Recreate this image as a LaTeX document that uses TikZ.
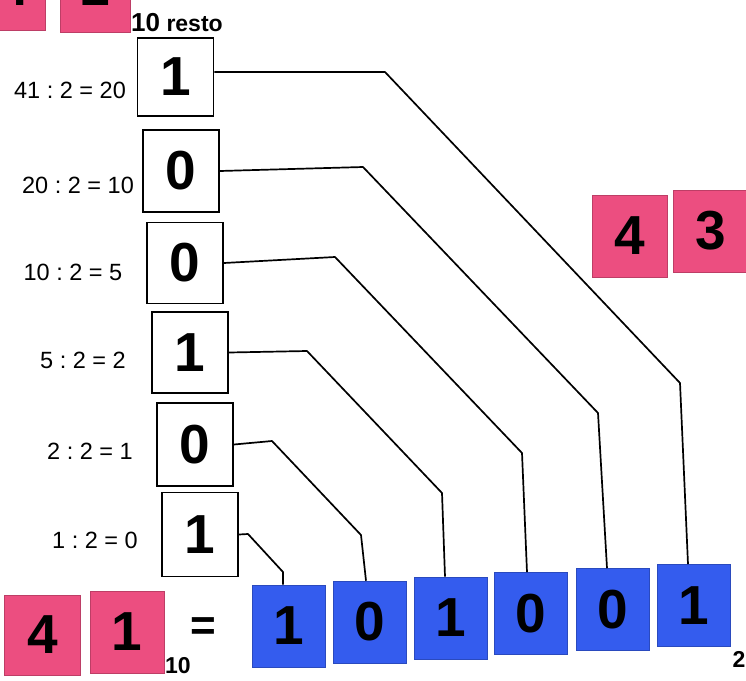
\documentclass[tikz,border=0pt]{standalone}
\usepackage{fontspec}
\setmainfont{Liberation Sans}
\definecolor{pinkc}{RGB}{236,78,128}
\definecolor{bluec}{RGB}{52,92,238}
\tikzset{
  big/.style={font=\fontsize{55}{55}\selectfont\bfseries},
  whitebox/.style={draw=black, line width=1.8pt, fill=white, minimum width=76pt, minimum height=81pt, inner sep=0pt, big},
  bluebox/.style={fill=bluec, draw=bluec!80!black, line width=0.6pt, minimum width=73pt, minimum height=82pt, inner sep=0pt, big},
  pinkbox/.style={fill=pinkc, draw=pinkc!80!black, line width=0.6pt, minimum width=75pt, minimum height=80pt, inner sep=0pt, big},
  lab/.style={font=\fontsize{23.5}{24}\selectfont, inner sep=0pt},
  conn/.style={line width=1.7pt, line join=round}
}
\begin{document}
\begin{tikzpicture}[x=1pt,y=-1pt]
\clip (0,0) rectangle (746,680);
\fill[white] (0,0) rectangle (746,680);

% top-left cut pink boxes
\node[pinkbox] (tp1) at (8,-10) {};
\node[big] (tp1d) at (14,-13) {4};
\node[pinkbox, minimum width=70pt] (tp2) at (95,-8) {};
\node[big] (tp2d) at (95,-13) {1};

% header
\node[anchor=west, inner sep=0pt, font=\fontsize{23}{23}\selectfont\bfseries] (hdr) at (131,23) {{\fontsize{26}{26}\selectfont 10} resto};

% white remainder boxes
\node[whitebox, minimum height=78pt] (W1) at (175.5,77) {1};
\node[whitebox, minimum height=82pt] (W2) at (181,171) {0};
\node[whitebox] (W3) at (185,263) {0};
\node[whitebox] (W4) at (190,352.5) {1};
\node[whitebox, minimum height=83pt] (W5) at (195,444.5) {0};
\node[whitebox, minimum height=84pt] (W6) at (200,534.5) {1};

% division labels
\node[lab] (L1) at (70,90) {41\;:\;2 = 20};
\node[lab] (L2) at (78,185) {20\;:\;2 = 10};
\node[lab] (L3) at (73,272) {10\;:\;2 = 5};
\node[lab] (L4) at (83,360) {5\;:\;2 = 2};
\node[lab] (L5) at (90,451) {2\;:\;2 = 1};
\node[lab] (L6) at (95,540) {1\;:\;2 = 0};

% right pink boxes
\node[pinkbox, minimum height=82pt] (R1) at (630,236) {4};
\node[pinkbox, minimum height=82pt] (R2) at (711,231) {3};

% bottom pink boxes
\node[pinkbox, minimum width=76pt] (P1) at (42.5,635) {4};
\node[pinkbox, minimum width=74pt, minimum height=82pt] (P2) at (127,632) {1};
\node[inner sep=0pt, font=\fontsize{23}{23}\selectfont\bfseries] (sub10) at (178,666) {10};
\node[inner sep=0pt, font=\fontsize{44}{44}\selectfont\bfseries] (eq) at (203,629) {=};

% blue boxes
\node[bluebox] (B1) at (289,626) {1};
\node[bluebox] (B2) at (369.5,622) {0};
\node[bluebox] (B3) at (451,618) {1};
\node[bluebox] (B4) at (531,613.5) {0};
\node[bluebox] (B5) at (612.5,609.5) {0};
\node[bluebox] (B6) at (693.5,605.5) {1};
\node[inner sep=0pt, font=\fontsize{23}{23}\selectfont\bfseries] (sub2) at (739,659) {2};

% connectors
\draw[conn] ([yshift=5pt]W1.east) -- (385,72) -- (680,383) -- ([xshift=-5.5pt]B6.north);
\draw[conn] (W2.east) -- (363,167) -- (598,413) -- ([xshift=-5.5pt]B5.north);
\draw[conn] (W3.east) -- (335,257) -- (522,453) -- ([xshift=-4pt]B4.north);
\draw[conn] (W4.east) -- (307,351) -- (442,493) -- ([xshift=-6pt]B3.north);
\draw[conn] (W5.east) -- (272,441) -- (361,535) -- ([xshift=-3.5pt]B2.north);
\draw[conn] (W6.east) -- (248,534) -- (283,572) -- ([xshift=-6pt]B1.north);
\end{tikzpicture}
\end{document}
